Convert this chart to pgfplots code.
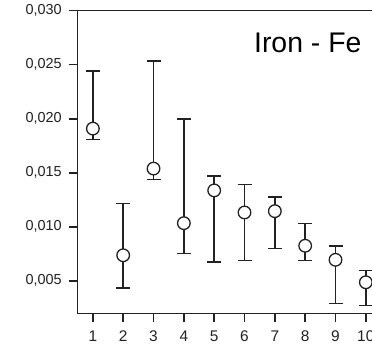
\documentclass[border=0pt]{standalone}
\usepackage{fontspec}
\setmainfont{Liberation Sans}
\usepackage{pgfplots}
\pgfplotsset{compat=1.18}
\definecolor{ink}{HTML}{222222}
\begin{document}
\begin{tikzpicture}
\useasboundingbox (-77.7bp,-30.7bp) rectangle (294.3bp,313.3bp);
\clip (-77.7bp,-30.7bp) rectangle (294.3bp,313.3bp);
\begin{axis}[
  at={(0,0)}, anchor=south west,
  scale only axis,
  width=303.3bp, height=302.6bp,
  xmin=0.5, xmax=10.5, ymin=0.002, ymax=0.030,
  xtick={1,2,3,4,5,6,7,8,9,10},
  ytick={0.005,0.010,0.015,0.020,0.025,0.030},
  yticklabels={{0,005},{0,010},{0,015},{0,020},{0,025},{0,030}},
  scaled y ticks=false,
  xtick pos=bottom, ytick pos=left,
  tick align=outside,
  major tick length=9bp,
  axis line style={ink, line width=1.5bp},
  every tick/.style={ink, line width=1.5bp},
  yticklabel style={font=\fontsize{14.5}{17}\selectfont, text=ink, xshift=-3.5bp},
  xticklabel style={font=\fontsize{15.5}{18}\selectfont, text=ink, yshift=-5bp},
  /pgf/number format/assume math mode=true,
  clip=false,
]
\addplot[ink, line width=1.5bp, only marks, mark=*, mark size=6.3bp,
  mark options={fill=white, draw=ink, line width=1.3bp},
  error bars/.cd, y dir=both, y explicit,
  error mark=-, error mark options={rotate=90, ink, line width=1.5bp, mark size=7bp},
  error bar style={ink, line width=1.5bp}]
table[x=x, y=y, y error plus=ep, y error minus=em] {
x y ep em
1 0.01909 0.00532 0.00102
2 0.00737 0.00480 0.00302
3 0.01539 0.00995 0.00103
4 0.01034 0.00966 0.00281
5 0.01337 0.00133 0.00664
6 0.01133 0.00257 0.00445
7 0.01145 0.00130 0.00345
8 0.00825 0.00204 0.00137
9 0.00695 0.00126 0.00403
10 0.00487 0.00108 0.00216
};
\node[anchor=base west, font=\fontsize{28.5}{32}\selectfont, text=black, inner sep=0pt] at (axis cs:6.31,0.02611) {Iron - Fe};
\end{axis}
\end{tikzpicture}
\end{document}
